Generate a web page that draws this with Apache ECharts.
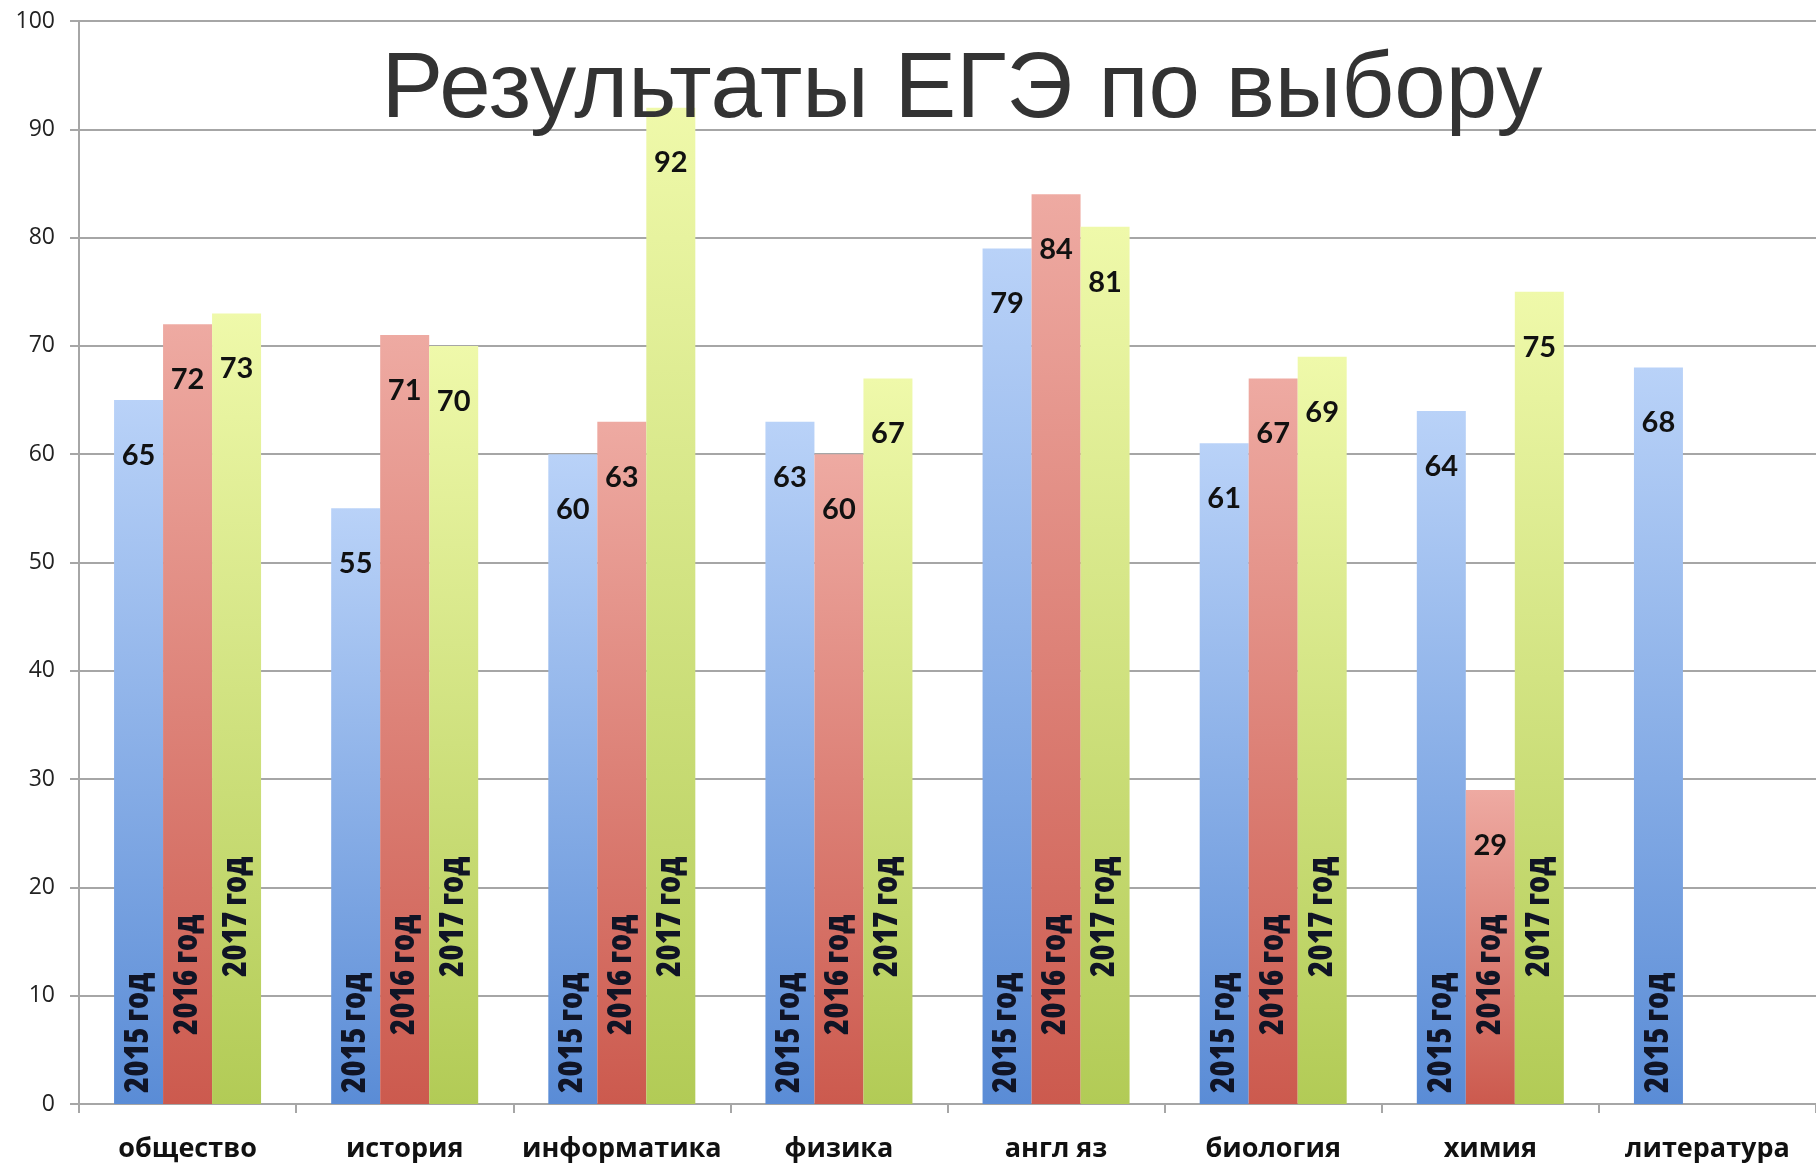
<!DOCTYPE html>
<html>
<head>
<meta charset="utf-8">
<script src="https://cdn.jsdelivr.net/npm/echarts@6/dist/echarts.min.js"></script>
<style>html,body{margin:0;padding:0;background:#fff}#c{width:1816px;height:1164px}</style>
</head>
<body>
<div id="c"></div>
<script>
const titleText = 'Результаты ЕГЭ по выбору';
const categories = ['общество', 'история', 'информатика', 'физика', 'англ яз', 'биология', 'химия', 'литература'];
const seriesNames = ['2015 год', '2016 год', '2017 год'];
const values2015 = [65, 55, 60, 63, 79, 61, 64, 68];
const values2016 = [72, 71, 63, 60, 84, 67, 29, null];
const values2017 = [73, 70, 92, 67, 81, 69, 75, null];
const yTicks = [0, 10, 20, 30, 40, 50, 60, 70, 80, 90, 100];

const chart = echarts.init(document.getElementById('c'), null, {renderer: 'canvas'});

function grad(top, bottom) {
  return new echarts.graphic.LinearGradient(0, 0, 0, 1, [
    {offset: 0, color: top}, {offset: 1, color: bottom}
  ]);
}
const colors = [
  grad('#b9d2f8', '#5a8cd6'),
  grad('#eeaaa2', '#cc5a4e'),
  grad('#eff9aa', '#b2cb56')
];
const dataSets = [values2015, values2016, values2017];
const yearDist = [11, 69, 127];

const series = [];
dataSets.forEach((d, i) => {
  series.push({
    name: seriesNames[i], type: 'bar', xAxisIndex: 0, data: d,
    barWidth: 49, barGap: '0%', z: 2,
    itemStyle: {color: colors[i]},
    label: {show: true, position: 'insideTop', distance: 41, color: '#111',
      fontFamily: 'Lato, "Open Sans", sans-serif', fontWeight: 'bold', fontSize: 29}
  });
});
dataSets.forEach((d, i) => {
  series.push({
    name: seriesNames[i] + ' label', type: 'bar', xAxisIndex: 1, data: d,
    barWidth: 49, barGap: '0%', z: 3,
    itemStyle: {color: 'rgba(0,0,0,0)'},
    label: {show: true, position: 'insideBottom', distance: yearDist[i], rotate: 90,
      align: 'left', verticalAlign: 'middle', formatter: () => seriesNames[i],
      color: '#101425', fontFamily: '"Open Sans"',
      fontWeight: '800 condensed', fontSize: 33}
  });
});

chart.setOption({
  animation: false,
  backgroundColor: '#fff',
  title: {
    text: titleText, left: 957, top: 40, textAlign: 'center',
    textStyle: {fontFamily: '"Liberation Sans", Arial, sans-serif', fontWeight: 'normal', fontSize: 92.5, color: '#333'},
    z: 10
  },
  grid: {left: 79, width: 1751, top: 21, bottom: 60, containLabel: false},
  xAxis: [{
    type: 'category', data: categories, gridIndex: 0,
    axisLine: {show: true, lineStyle: {color: '#a6a6a6', width: 2}},
    axisTick: {show: true, length: 9, lineStyle: {color: '#a6a6a6', width: 2}},
    axisLabel: {interval: 0, margin: 32, color: '#111', fontFamily: '"Open Sans", sans-serif', fontWeight: 'bold', fontSize: 27}
  }, {
    type: 'category', data: categories, gridIndex: 0, show: false
  }],
  yAxis: {
    type: 'value', min: yTicks[0], max: yTicks[yTicks.length - 1], interval: 10,
    axisLine: {show: true, lineStyle: {color: '#a6a6a6', width: 2}},
    axisTick: {show: true, length: 9, lineStyle: {color: '#a6a6a6', width: 2}},
    splitLine: {show: true, lineStyle: {color: '#a6a6a6', width: 2}},
    axisLabel: {margin: 24, color: '#222', fontFamily: '"Open Sans", sans-serif', fontSize: 23}
  },
  series: series
});
</script>
</body>
</html>
